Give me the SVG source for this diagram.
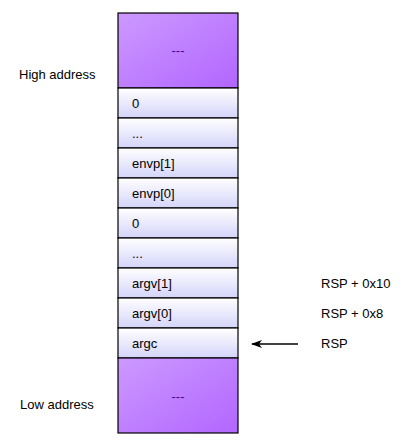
<svg xmlns="http://www.w3.org/2000/svg" width="416" height="447" viewBox="0 0 416 447">
<style>
text{font-family:"Liberation Sans",Arial,sans-serif;font-size:13px;fill:#000}
.big{fill:url(#pg);stroke:#000;stroke-width:1.2}
.row{fill:url(#rg);stroke:#000;stroke-width:1.2}
.dash{fill:#4c0099;text-anchor:middle}
</style>
<defs>
<linearGradient id="pg" x1="0" y1="0" x2="1" y2="1">
<stop offset="0" stop-color="#cc99ff"/>
<stop offset="1" stop-color="#b266ff"/>
</linearGradient>
<linearGradient id="rg" x1="0" y1="0" x2="0" y2="1">
<stop offset="0" stop-color="#ffffff"/>
<stop offset="1" stop-color="#d4d4fa"/>
</linearGradient>
<marker id="ah" markerWidth="12" markerHeight="10" refX="10" refY="5" orient="auto" markerUnits="userSpaceOnUse">
<path d="M0,1 L11,5 L0,9 L3,5 Z" fill="#000"/>
</marker>
</defs>
<g id="top"><rect class="big" x="118" y="13" width="120" height="75"/><text class="dash" x="178" y="55">---</text></g>
<g id="r0"><rect class="row" x="118" y="88" width="120" height="30"/><text x="132" y="108">0</text></g>
<g id="r1"><rect class="row" x="118" y="118" width="120" height="30"/><text x="132" y="138">...</text></g>
<g id="r2"><rect class="row" x="118" y="148" width="120" height="30"/><text x="132" y="168">envp[1]</text></g>
<g id="r3"><rect class="row" x="118" y="178" width="120" height="30"/><text x="132" y="198">envp[0]</text></g>
<g id="r4"><rect class="row" x="118" y="208" width="120" height="30"/><text x="132" y="228">0</text></g>
<g id="r5"><rect class="row" x="118" y="238" width="120" height="30"/><text x="132" y="258">...</text></g>
<g id="r6"><rect class="row" x="118" y="268" width="120" height="30"/><text x="132" y="288">argv[1]</text></g>
<g id="r7"><rect class="row" x="118" y="298" width="120" height="30"/><text x="132" y="318">argv[0]</text></g>
<g id="r8"><rect class="row" x="118" y="328" width="120" height="30"/><text x="132" y="348">argc</text></g>
<g id="bottom"><rect class="big" x="118" y="358" width="120" height="75"/><text class="dash" x="178" y="401">---</text></g>
<g id="labels">
<text x="19" y="79">High address</text>
<text x="20" y="409">Low address</text>
<text x="321" y="288">RSP + 0x10</text>
<text x="321" y="318">RSP + 0x8</text>
<text x="321" y="348">RSP</text>
</g>
<g id="connectors">
<line x1="298" y1="344" x2="252" y2="344" stroke="#000" stroke-width="1.5" marker-end="url(#ah)"/>
</g>
</svg>
